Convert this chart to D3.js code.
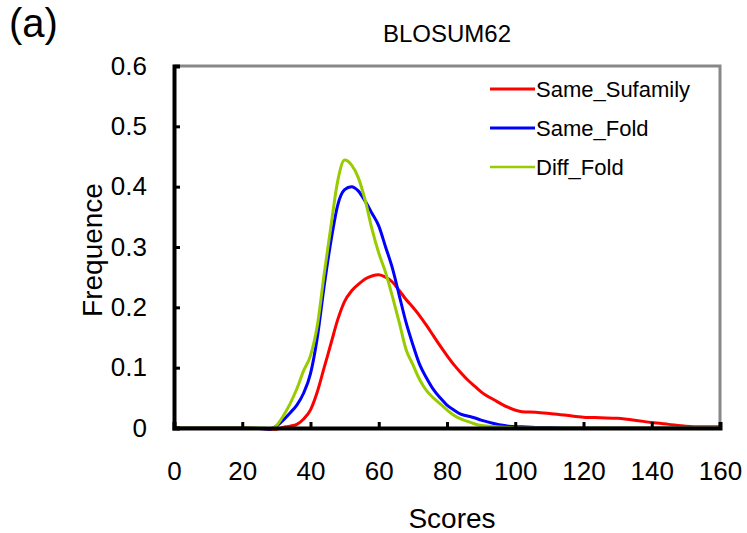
<!DOCTYPE html>
<html lang="en">
<head>
    <meta charset="UTF-8">
    <title>BLOSUM62</title>
    <script src="https://cdn.jsdelivr.net/npm/d3@7/dist/d3.min.js"></script>
    <style>
        body { margin: 0; background: #fff; }
        text { font-family: "Liberation Sans", Arial, sans-serif; fill: #000; }
        .curve { fill: none; stroke-width: 3; stroke-linejoin: round; }
    </style>
</head>
<body>
    <svg width=747 height=533></svg>
    <script>
        var scores = [0, 10, 20, 25, 28, 30, 32, 34, 36, 38, 40, 42, 44, 46, 48, 50, 52, 54, 56, 58,
                      60, 62, 64, 66, 68, 70, 72, 74, 76, 78, 80, 82, 84, 86, 88, 90, 94, 98, 102, 106,
                      110, 115, 120, 125, 130, 135, 140, 145, 150, 155, 160];

        var sameSufamily = [0, 0, 0, -0.001, -0.002, -0.002, 0.001, 0.003, 0.006, 0.015, 0.03, 0.06, 0.1, 0.14, 0.18, 0.21, 0.227, 0.238, 0.247, 0.252,
                            0.254, 0.25, 0.242, 0.228, 0.213, 0.2, 0.186, 0.17, 0.153, 0.136, 0.12, 0.105, 0.092, 0.08, 0.07, 0.06, 0.046, 0.034, 0.027, 0.026,
                            0.024, 0.021, 0.018, 0.017, 0.016, 0.013, 0.009, 0.006, 0.003, 0.002, 0.002];

        var sameFold = [0, 0, 0, -0.001, -0.002, 0.003, 0.013, 0.025, 0.038, 0.058, 0.09, 0.15, 0.235, 0.31, 0.37, 0.395, 0.4, 0.393, 0.376, 0.356,
                        0.335, 0.3, 0.265, 0.22, 0.175, 0.138, 0.105, 0.083, 0.064, 0.05, 0.038, 0.03, 0.023, 0.02, 0.017, 0.013, 0.007, 0.003, 0.002, 0.001,
                        0.001, 0, 0, 0, 0, 0, 0, 0, 0, 0, 0];

        var diffFold = [0, 0, 0, 0, -0.001, 0.004, 0.02, 0.04, 0.065, 0.095, 0.12, 0.17, 0.255, 0.335, 0.41, 0.444, 0.436, 0.415, 0.378, 0.33,
                        0.29, 0.258, 0.218, 0.175, 0.13, 0.105, 0.08, 0.062, 0.05, 0.04, 0.03, 0.021, 0.015, 0.011, 0.007, 0.004, 0.002, 0.001, 0, 0,
                        0, 0, 0, 0, 0, 0, 0, 0, 0, 0, 0];

        var seriesNames = ['Same_Sufamily', 'Same_Fold', 'Diff_Fold'];
        var seriesColors = ['#ff0000', '#0000ff', '#99cc00'];
        var xTicks = [0, 20, 40, 60, 80, 100, 120, 140, 160];
        var yTicks = [0, 0.1, 0.2, 0.3, 0.4, 0.5, 0.6];

        var svg = d3.select('svg'),
            margin = { top: 66, right: 27, bottom: 105, left: 174 },
            chartWidth = 747 - margin.left - margin.right,
            chartHeight = 533 - margin.top - margin.bottom,
            xScale = d3.scaleLinear().domain([0, 160]).range([0, chartWidth]),
            yScale = d3.scaleLinear().domain([0, 0.6]).range([chartHeight, 0]),
            chartG = svg.append('g')
                        .attr('transform', 'translate(' + [margin.left, margin.top] + ')');

        // gray frame on top and right
        chartG.append('path')
            .attr('d', 'M0,0H' + chartWidth + 'V' + chartHeight)
            .attr('fill', 'none')
            .attr('stroke', '#888')
            .attr('stroke-width', 3);

        var lineG = d3.line()
            .x(function(d) { return xScale(d[0]); })
            .y(function(d) { return yScale(d[1]); })
            .curve(d3.curveMonotoneX);

        var allSeries = [sameSufamily, sameFold, diffFold];
        allSeries.forEach(function(vals, i) {
            chartG.append('path')
                .classed('curve', true)
                .datum(scores.map(function(s, j) { return [s, vals[j]]; }))
                .attr('stroke', seriesColors[i])
                .attr('d', lineG);
        });

        var xAxis = d3.axisBottom(xScale).tickValues(xTicks).tickSize(-6).tickPadding(34)
                        .tickFormat(d3.format('d'));
        var yAxis = d3.axisLeft(yScale).tickValues(yTicks).tickSize(-6).tickPadding(27)
                        .tickFormat(function(d) { return d === 0 ? '0' : d3.format('.1f')(d); });

        var xg = chartG.append('g')
            .attr('transform', 'translate(' + [0, chartHeight] + ')')
            .call(xAxis);
        var yg = chartG.append('g').call(yAxis);

        [xg, yg].forEach(function(g) {
            g.select('.domain').attr('stroke', '#000').attr('stroke-width', 4);
            g.selectAll('.tick line').attr('stroke', '#000').attr('stroke-width', 3);
            g.selectAll('.tick text').style('font-size', '26px').attr('fill', '#000')
                .style('font-family', '"Liberation Sans", Arial, sans-serif');
        });
        xg.selectAll('.tick text').attr('dy', '0.71em');

        // titles
        svg.append('text').attr('x', 9).attr('y', 37).style('font-size', '40px').text('(a)');
        svg.append('text').attr('x', 447).attr('y', 42).attr('text-anchor', 'middle')
            .style('font-size', '24px').text('BLOSUM62');
        svg.append('text').attr('x', 452).attr('y', 528).attr('text-anchor', 'middle')
            .style('font-size', '28px').text('Scores');
        svg.append('text').attr('transform', 'translate(102,250) rotate(-90)')
            .attr('text-anchor', 'middle').style('font-size', '28px').text('Frequence');

        // legend
        var legend = svg.append('g').attr('transform', 'translate(490,89)');
        seriesNames.forEach(function(name, i) {
            var row = legend.append('g').attr('transform', 'translate(0,' + (i * 39) + ')');
            row.append('line').attr('x1', 0).attr('x2', 45)
                .attr('stroke', seriesColors[i]).attr('stroke-width', i === 2 ? 2.5 : 3);
            row.append('text').attr('x', 46).attr('dy', '0.35em')
                .style('font-size', '22px').text(name);
        });
    </script>
</body>
</html>
